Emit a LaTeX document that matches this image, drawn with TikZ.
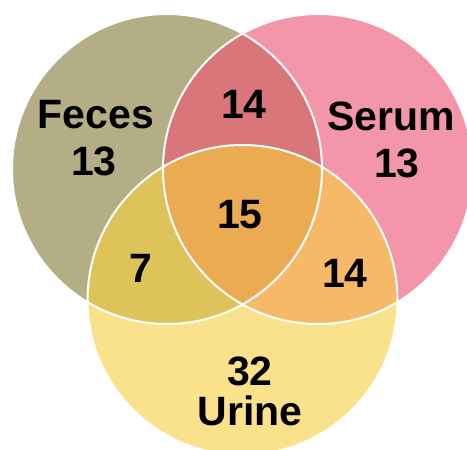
\documentclass[tikz,border=0pt]{standalone}
\usepackage{fontspec}
\setmainfont{Liberation Sans}
\definecolor{cF}{RGB}{180,174,134}
\definecolor{cS}{RGB}{243,150,169}
\definecolor{cU}{RGB}{250,226,140}
\definecolor{cFS}{RGB}{216,118,121}
\definecolor{cFU}{RGB}{222,195,90}
\definecolor{cSU}{RGB}{246,185,103}
\definecolor{cFSU}{RGB}{235,171,82}
\begin{document}
\begin{tikzpicture}[x=1pt,y=-1pt,
  lbl/.style={font=\fontsize{41}{41}\selectfont\bfseries, anchor=base, inner sep=0pt, text=black},
  border/.style={draw=white, line width=2pt}]
\useasboundingbox (0,0) rectangle (467,450);
\clip (0,0) rectangle (467,450);
\coordinate (F) at (167,169);
\coordinate (S) at (318,169);
\coordinate (U) at (242.5,300);
% base fills
\fill[cF] (F) circle (155pt);
\fill[cS] (S) circle (155pt);
\fill[cU] (U) circle (155pt);
% serum & urine
\begin{scope}
  \clip (S) circle (155pt);
  \fill[cSU] (U) circle (155pt);
\end{scope}
% feces intersections
\begin{scope}
  \clip (F) circle (155pt);
  \fill[cFS] (S) circle (155pt);
  \fill[cFU] (U) circle (155pt);
  \clip (S) circle (155pt);
  \fill[cFSU] (U) circle (155pt);
\end{scope}
% white borders
\draw[border] (F) circle (155pt);
\draw[border] (S) circle (155pt);
\draw[border] (U) circle (155pt);
% labels
\node[lbl] (feces) at (96,128) {Feces};
\node[lbl] (fecesn) at (94,175) {13};
\node[lbl] (serum) at (391,130) {Serum};
\node[lbl] (serumn) at (397,177) {13};
\node[lbl] (fs) at (244,118) {14};
\node[lbl] (fsu) at (240,228) {15};
\node[lbl] (fu) at (141,282) {7};
\node[lbl] (su) at (345,287) {14};
\node[lbl] (urinen) at (250,385) {32};
\node[lbl] (urine) at (250,425) {Urine};
\end{tikzpicture}
\end{document}
